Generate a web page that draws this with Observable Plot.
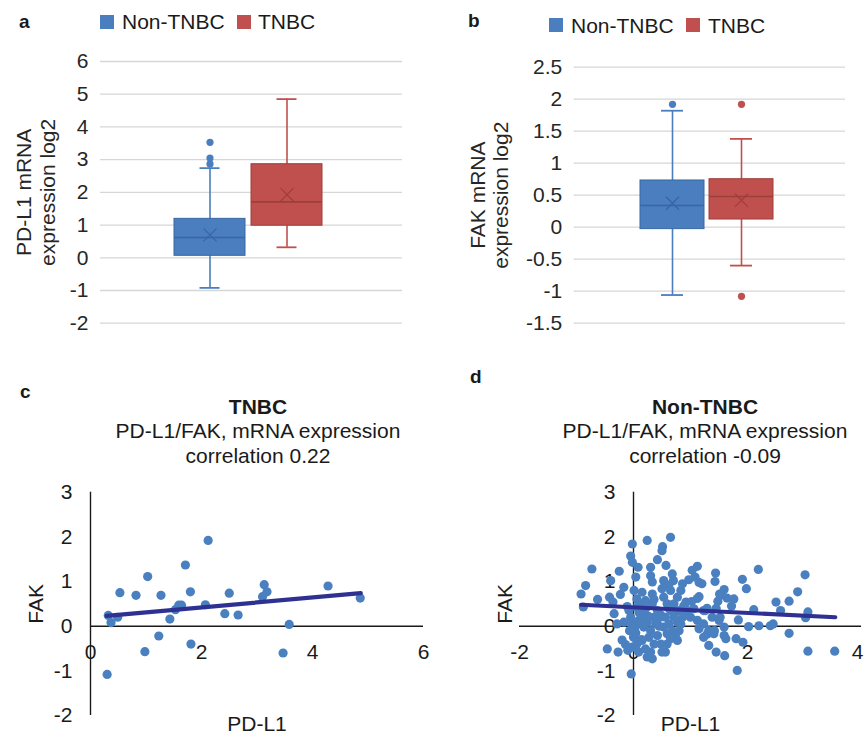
<!DOCTYPE html>
<html>
<head>
<meta charset="utf-8">
<script src="https://cdn.jsdelivr.net/npm/d3@7"></script>
<script src="https://cdn.jsdelivr.net/npm/@observablehq/plot@0.6"></script>
<style>
  html, body { margin: 0; padding: 0; background: #fff; }
  #fig { position: relative; width: 864px; height: 738px; overflow: hidden; background: #fff;
         font-family: "Liberation Sans", Arial, sans-serif; color: #1a1a1a; }
  .abs { position: absolute; }
  .letter { font-weight: bold; font-size: 19px; line-height: 19px; }
  .leg { font-size: 21px; line-height: 21px; white-space: nowrap; }
  .sq { width: 14px; height: 14px; }
  .title { width: 432px; text-align: center; font-size: 21px; line-height: 24.5px; }
</style>
</head>
<body>
<div id="fig"></div>
<script>
// ---------- DATA ----------
const groups = ["Non-TNBC", "TNBC"];
const groupFill = ["#4a7ebf", "#c0504d"];
const groupDark = ["#3a66a2", "#9f3f3b"];

// panel a: PD-L1 mRNA expression log2 (box summaries)
const pdl1Ticks = [-2, -1, 0, 1, 2, 3, 4, 5, 6];
const pdl1Low = [-0.92, 0.32];
const pdl1Q1 = [0.06, 0.98];
const pdl1Median = [0.62, 1.71];
const pdl1Q3 = [1.19, 2.86];
const pdl1High = [2.74, 4.85];
const pdl1Mean = [0.70, 1.93];
const pdl1OutlierGroup = ["Non-TNBC", "Non-TNBC", "Non-TNBC"];
const pdl1OutlierValue = [3.53, 3.05, 2.87];

// panel b: FAK mRNA expression log2 (box summaries)
const fakTicks = [-1.5, -1, -0.5, 0, 0.5, 1, 1.5, 2, 2.5];
const fakLow = [-1.06, -0.60];
const fakQ1 = [-0.03, 0.12];
const fakMedian = [0.34, 0.48];
const fakQ3 = [0.73, 0.75];
const fakHigh = [1.82, 1.38];
const fakMean = [0.375, 0.42];
const fakOutlierGroup = ["Non-TNBC", "TNBC", "TNBC"];
const fakOutlierValue = [1.92, 1.92, -1.08];

// panel c: TNBC scatter
const tnbcPDL1 = [0.32, 0.37, 0.49, 0.53, 0.82, 1.03, 0.98, 0.30, 1.27, 1.23, 1.43, 1.53, 1.59, 1.64, 1.71, 1.80, 1.81, 2.07, 2.12, 2.42, 2.50, 2.66, 3.10, 3.13, 3.18, 3.47, 3.58, 4.28, 4.86];
const tnbcFAK  = [0.24, 0.08, 0.20, 0.75, 0.69, 1.11, -0.57, -1.08, 0.69, -0.22, 0.16, 0.37, 0.47, 0.47, 1.37, 0.77, -0.40, 0.48, 1.92, 0.28, 0.74, 0.25, 0.66, 0.93, 0.77, -0.60, 0.04, 0.90, 0.63];
const tnbcTrendX = [0.29, 4.87];
const tnbcTrendY = [0.23, 0.74];

// panel d: Non-TNBC scatter
const nonPDL1 = [-0.92,-0.84,-0.88,-0.73,-0.63,-0.46,-0.27,-0.25,-0.40,-0.42,-0.17,-0.23,-0.36,-0.34,-0.20,-0.14,-0.10,-0.17,-0.29,-0.11,-0.04,-0.02,-0.05,-0.02,0.08,0.04,0.24,0.30,0.30,0.33,0.42,0.50,0.51,0.65,0.57,0.68,0.70,0.53,0.50,
  -0.08,-0.05,-0.03,-0.07,0.00,0.06,-0.02,0.09,0.12,0.03,0.09,0.15,0.06,0.18,0.15,0.21,0.24,0.30,0.33,0.36,0.27,0.30,0.24,0.36,0.21,0.33,0.42,0.39,0.42,0.48,0.50,0.45,0.01,0.15,0.33,0.06,0.21,0.12,
  0.53,0.59,0.65,0.71,0.77,0.62,0.68,0.59,0.65,0.74,0.80,0.83,0.86,0.80,0.71,0.77,0.83,0.65,0.56,0.53,0.47,0.59,0.56,0.77,0.89,0.92,0.95,0.62,0.86,
  1.03,1.12,0.97,1.20,1.08,1.15,1.12,1.15,1.06,1.00,1.12,1.15,1.23,1.32,1.41,1.32,1.23,1.29,1.38,1.26,1.29,1.23,
  1.44,1.43,1.51,1.48,1.64,1.76,1.59,1.55,1.50,1.59,1.59,1.45,1.60,1.52,1.42,1.62,1.72,1.45,
  1.80,1.92,1.82,1.84,1.91,1.98,2.02,2.11,2.19,2.20,2.40,2.45,2.50,2.58,2.73,2.73,2.88,3.01,3.06,3.02,3.06,3.53,
  0.10,0.18,0.26,0.04,0.14,0.40,0.48,0.36,0.62,0.72,0.92,1.02,0.88];
const nonFAK = [0.72,0.91,0.43,1.28,0.60,-0.51,-0.58,1.23,1.02,0.65,0.87,0.71,0.54,0.28,-0.31,-0.41,-0.54,0.09,0.05,0.44,-1.07,1.84,1.57,1.43,1.32,1.10,1.92,1.32,1.13,0.99,1.49,1.69,1.78,1.99,1.36,1.17,1.02,1.02,0.84,
  0.35,0.20,0.05,-0.10,-0.25,-0.40,-0.47,-0.58,0.15,-0.02,0.12,0.28,0.42,-0.02,-0.32,-0.51,-0.69,-0.58,-0.73,-0.40,-0.25,-0.10,0.09,0.20,0.39,0.50,0.35,0.05,-0.21,-0.40,-0.58,0.00,0.80,0.76,0.72,0.61,0.57,0.50,
  0.65,0.50,0.35,0.20,0.09,0.05,-0.10,-0.17,-0.28,-0.25,-0.10,0.05,0.20,0.35,0.50,0.65,0.80,0.80,0.20,-0.02,0.20,-0.40,-0.58,-0.32,0.35,0.54,0.35,0.92,0.95,
  1.25,1.34,1.04,0.95,1.10,0.98,0.62,0.66,0.39,0.20,0.13,-0.06,0.05,-0.10,-0.17,-0.43,-0.25,-0.18,0.20,0.35,0.40,0.35,
  1.19,1.00,0.72,0.56,0.63,0.61,0.82,0.70,0.13,-0.02,-0.21,-0.58,-0.66,0.20,-0.10,-0.28,0.45,0.40,
  -0.28,-0.36,-0.99,0.14,1.05,0.84,-0.01,0.37,1.27,0.01,0.01,0.05,0.54,0.35,0.56,-0.16,0.77,1.15,0.32,0.19,-0.56,-0.56,
  0.30,0.45,0.22,-0.15,-0.30,0.10,0.25,0.60,0.40,0.30,0.25,0.55,0.45];
const nonTrendX = [-0.92, 3.54];
const nonTrendY = [0.48, 0.20];

const scatterYTicks = [-2, -1, 0, 1, 2, 3];
const tnbcXTicks = [0, 2, 4, 6];
const nonXTicks = [-2, 0, 2, 4];

// ---------- HELPERS ----------
const FONT = '"Liberation Sans", Arial, sans-serif';
const fig = document.getElementById("fig");

function place(el, left, top) {
  el.style.position = "absolute";
  el.style.left = left + "px";
  el.style.top = top + "px";
  fig.appendChild(el);
}
function html(tag, cls, text, left, top, extra = {}) {
  const el = document.createElement(tag);
  if (cls) el.className = cls;
  if (text != null) el.textContent = text;
  Object.assign(el.style, extra);
  place(el, left, top);
  return el;
}

function boxPanel(opt) {
  const rows = groups.map((g, i) => ({
    group: g, low: opt.low[i], q1: opt.q1[i], median: opt.median[i], q3: opt.q3[i],
    high: opt.high[i], mean: opt.mean[i], fill: groupFill[i], dark: groupDark[i]
  }));
  const outliers = opt.outGroup.map((g, i) => ({
    group: g, value: opt.outValue[i], fill: groupFill[groups.indexOf(g)]
  }));
  return Plot.plot({
    width: 432, height: 300,
    marginLeft: opt.marginLeft, marginRight: opt.marginRight,
    marginTop: opt.marginTop, marginBottom: opt.marginBottom,
    style: { fontSize: "21px", fontFamily: FONT, color: "#262626", background: "transparent", overflow: "visible" },
    x: { type: "band", domain: groups, paddingInner: 0.075, paddingOuter: 0.99, align: 0.48, axis: null },
    y: { domain: [opt.ticks[0], opt.ticks[opt.ticks.length - 1]] },
    marks: [
      Plot.gridY(opt.ticks, { stroke: "#d6d6d6", strokeOpacity: 1, strokeWidth: 1.3 }),
      Plot.axisY(opt.ticks, { tickSize: 0, tickPadding: 12, tickFormat: d => String(d), label: null, fontSize: 21 }),
      Plot.text([opt.label], { frameAnchor: "left", rotate: -90, dx: opt.labelDx, textAnchor: "middle", lineAnchor: "middle", lineHeight: opt.lineHeight, fontSize: 21, fill: "#262626" }),
      Plot.ruleX(rows, { x: "group", y1: "low", y2: "high", stroke: "fill", strokeWidth: 1.6 }),
      Plot.tickY(rows, { x: "group", y: "low", stroke: "fill", strokeWidth: 1.8, insetLeft: opt.capInset, insetRight: opt.capInset }),
      Plot.tickY(rows, { x: "group", y: "high", stroke: "fill", strokeWidth: 1.8, insetLeft: opt.capInset, insetRight: opt.capInset }),
      Plot.barY(rows, { x: "group", y1: "q1", y2: "q3", fill: "fill", stroke: "dark", strokeWidth: 1 }),
      Plot.tickY(rows, { x: "group", y: "median", stroke: "dark", strokeWidth: 1.6 }),
      Plot.dot(rows, { x: "group", y: "mean", symbol: "times", r: 6, stroke: "dark", strokeWidth: 1.3 }),
      Plot.dot(outliers, { x: "group", y: "value", fill: "fill", r: 3.6 })
    ]
  });
}

function scatterPanel(opt) {
  const pts = opt.xs.map((x, i) => ({ x, y: opt.ys[i] }));
  const trend = opt.tx.map((x, i) => ({ x, y: opt.ty[i] }));
  const xLast = opt.xTicks[opt.xTicks.length - 1];
  return Plot.plot({
    width: 432, height: 268,
    marginLeft: opt.marginLeft, marginRight: opt.marginRight, marginTop: 21.7, marginBottom: 23,
    style: { fontSize: "21px", fontFamily: FONT, color: "#1a1a1a", background: "transparent", overflow: "visible" },
    x: { domain: opt.xDomain, axis: null },
    y: { domain: [-2, 3], axis: null },
    marks: [
      Plot.ruleY([0], { stroke: "#1a1a1a", strokeWidth: 1.4 }),
      Plot.ruleX([0], { stroke: "#1a1a1a", strokeWidth: 1.4 }),
      Plot.text(scatterYTicks, { x: 0, y: d => d, text: d => String(d), dx: -18, textAnchor: "end", fontSize: 21, fill: "#1a1a1a" }),
      Plot.text(opt.xTicks.filter(d => d !== xLast || !opt.lastShift), { x: d => d, y: 0, text: d => String(d), dy: 26, fontSize: 21, fill: "#1a1a1a" }),
      Plot.text(opt.lastShift ? [xLast] : [], { x: d => d, y: 0, text: d => String(d), dy: 26, dx: opt.lastShift, fontSize: 21, fill: "#1a1a1a" }),
      Plot.dot(pts, { x: "x", y: "y", r: 4.6, fill: "#4a80c0" }),
      Plot.line(trend, { x: "x", y: "y", stroke: "#2e3192", strokeWidth: 4.2, strokeLinecap: "round" }),
      Plot.text(["FAK"], { frameAnchor: "left", rotate: -90, dx: opt.fakDx, textAnchor: "middle", fontSize: 21, fill: "#1a1a1a" }),
      Plot.text(["PD-L1"], { frameAnchor: "bottom", dy: 15, fontSize: 21, fill: "#1a1a1a" })
    ]
  });
}

// ---------- PANEL LETTERS ----------
html("div", "letter", "a", 19, 12);
html("div", "letter", "b", 468, 11);
html("div", "letter", "c", 20, 382);
html("div", "letter", "d", 470, 367);

// ---------- LEGENDS ----------
function legend(yCenter, xs) {
  html("div", "sq", null, xs[0], yCenter - 7, { background: groupFill[0] });
  html("div", "leg", groups[0], xs[1], yCenter - 10.3);
  html("div", "sq", null, xs[2], yCenter - 7, { background: groupFill[1] });
  html("div", "leg", groups[1], xs[3], yCenter - 10.3);
}
legend(21.5, [100, 122, 237, 258]);
legend(25, [549, 571, 686, 708]);

// ---------- BOX PANELS ----------
place(boxPanel({
  low: pdl1Low, q1: pdl1Q1, median: pdl1Median, q3: pdl1Q3, high: pdl1High, mean: pdl1Mean,
  outGroup: pdl1OutlierGroup, outValue: pdl1OutlierValue, ticks: pdl1Ticks,
  marginLeft: 100, marginRight: 30, marginTop: 21, marginBottom: 17.3,
  label: "PD-L1 mRNA\nexpression log2", labelDx: -65.5, lineHeight: 1.19, capInset: 25.5
}), 0, 40);

place(boxPanel({
  low: fakLow, q1: fakQ1, median: fakMedian, q3: fakQ3, high: fakHigh, mean: fakMean,
  outGroup: fakOutlierGroup, outValue: fakOutlierValue, ticks: fakTicks,
  marginLeft: 141.7, marginRight: 19, marginTop: 26.7, marginBottom: 17.3,
  label: "FAK mRNA\nexpression log2", labelDx: -85.2, lineHeight: 1.1, capInset: 21
}), 432, 40);

// ---------- TITLES ----------
html("div", "title", null, 42, 394.75).innerHTML =
  '<b>TNBC</b><br>PD-L1/FAK, mRNA expression<br>correlation 0.22';
html("div", "title", null, 489, 394.75).innerHTML =
  '<b>Non-TNBC</b><br>PD-L1/FAK, mRNA expression<br>correlation -0.09';

// ---------- SCATTER PANELS ----------
place(scatterPanel({
  xs: tnbcPDL1, ys: tnbcFAK, tx: tnbcTrendX, ty: tnbcTrendY,
  xDomain: [0, 6], xTicks: tnbcXTicks, marginLeft: 90, marginRight: 9, fakDx: -54, lastShift: 0
}), 0, 470);

place(scatterPanel({
  xs: nonPDL1, ys: nonFAK, tx: nonTrendX, ty: nonTrendY,
  xDomain: [-2, 4], xTicks: nonXTicks, marginLeft: 87, marginRight: 3, fakDx: -14, lastShift: -4
}), 432, 470);
</script>
</body>
</html>
